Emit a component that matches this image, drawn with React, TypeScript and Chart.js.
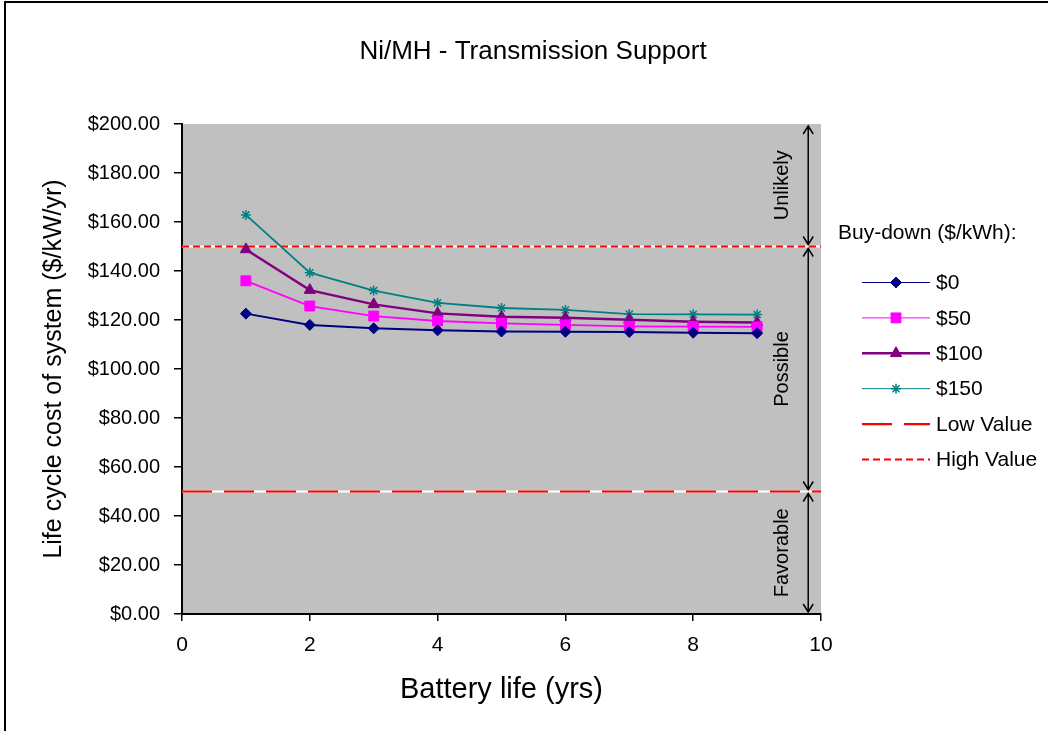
import React, { useEffect, useRef } from 'react';
import { Chart, registerables, PointElement } from 'chart.js';

Chart.register(...registerables);

// ---------- data ----------
const years = [1, 2, 3, 4, 5, 6, 7, 8, 9];
const cost0 = [122.6, 118.0, 116.6, 115.8, 115.3, 115.2, 115.1, 114.8, 114.6];
const cost50 = [136.0, 125.7, 121.6, 119.6, 118.6, 118.0, 117.4, 117.3, 117.2];
const cost100 = [148.8, 132.2, 126.4, 122.7, 121.3, 120.9, 120.1, 119.3, 119.0];
const cost150 = [162.9, 139.3, 132.0, 127.0, 124.9, 124.1, 122.4, 122.3, 122.2];
const seriesLabels = ['$0', '$50', '$100', '$150'];
const lowValue = 50;
const highValue = 150;
const xMin = 0;
const xMax = 10;
const xStep = 2;
const yMin = 0;
const yMax = 200;
const yStep = 20;
const zoneBounds = [0, 50, 150, 200];
const zoneLabels = ['Favorable', 'Possible', 'Unlikely'];
const arrowX = 9.8;
const zoneLabelX = 9.4;
const chartTitle = 'Ni/MH - Transmission Support';
const xTitle = 'Battery life (yrs)';
const yTitle = 'Life cycle cost of system ($/kW/yr)';
const legendTitle = 'Buy-down ($/kWh):';

const FONT = "'Liberation Sans', Arial, sans-serif";

const pts = (ys: number[]) => years.map((x, i) => ({ x, y: ys[i] }));
const flat = (v: number) => [{ x: xMin, y: v }, { x: xMax, y: v }];

const plotBg = {
  id: 'plotBg',
  beforeDraw(chart: any) {
    const { ctx, chartArea: a } = chart;
    ctx.save();
    ctx.fillStyle = '#C0C0C0';
    ctx.fillRect(a.left, a.top, a.right - a.left, a.bottom - a.top);
    ctx.restore();
  },
};

const zones = {
  id: 'zones',
  afterDatasetsDraw(chart: any) {
    const { ctx, scales } = chart;
    const x = scales.x;
    const y = scales.y;
    const ax = x.getPixelForValue(arrowX);
    const lx = x.getPixelForValue(zoneLabelX);
    ctx.save();
    ctx.strokeStyle = '#000';
    ctx.fillStyle = '#000';
    ctx.lineWidth = 1.5;
    for (let i = 0; i < zoneLabels.length; i++) {
      const yTop = y.getPixelForValue(zoneBounds[i + 1]) + 2;
      const yBot = y.getPixelForValue(zoneBounds[i]) - 2;
      ctx.beginPath();
      ctx.moveTo(ax, yTop);
      ctx.lineTo(ax, yBot);
      ctx.moveTo(ax - 5, yTop + 8);
      ctx.lineTo(ax, yTop);
      ctx.lineTo(ax + 5, yTop + 8);
      ctx.moveTo(ax - 5, yBot - 8);
      ctx.lineTo(ax, yBot);
      ctx.lineTo(ax + 5, yBot - 8);
      ctx.stroke();
      ctx.save();
      ctx.translate(lx, (yTop + yBot) / 2);
      ctx.rotate(-Math.PI / 2);
      ctx.font = `20px ${FONT}`;
      ctx.textAlign = 'center';
      ctx.textBaseline = 'middle';
      ctx.fillText(zoneLabels[i], 0, 0);
      ctx.restore();
    }
    ctx.restore();
  },
};

const sideLegend = {
  id: 'sideLegend',
  afterDraw(chart: any, _args: any, opts: any) {
    const { ctx } = chart;
    ctx.save();
    ctx.fillStyle = '#000';
    ctx.font = `21px ${FONT}`;
    ctx.textBaseline = 'middle';
    ctx.textAlign = 'left';
    ctx.fillText(opts.title, opts.titleX, opts.titleY);
    const area = { left: 0, top: 0, right: chart.width, bottom: chart.height };
    let row = 0;
    chart.data.datasets.forEach((ds: any) => {
      if (ds.label.startsWith('_')) return;
      const yy = opts.firstY + row * opts.rowGap;
      ctx.save();
      ctx.strokeStyle = ds.borderColor;
      ctx.lineWidth = ds.legendLineWidth ?? ds.borderWidth;
      ctx.setLineDash(ds.borderDash || []);
      ctx.beginPath();
      ctx.moveTo(opts.lineX0, yy);
      ctx.lineTo(opts.lineX1, yy);
      ctx.stroke();
      ctx.restore();
      if (ds.pointRadius > 0) {
        const p = new PointElement({
          x: (opts.lineX0 + opts.lineX1) / 2,
          y: yy,
          options: {
            pointStyle: ds.pointStyle,
            radius: ds.pointRadius,
            rotation: 0,
            borderWidth: ds.pointBorderWidth,
            backgroundColor: ds.backgroundColor,
            borderColor: ds.borderColor,
          },
        } as any);
        p.draw(ctx, area as any);
      }
      ctx.fillStyle = '#000';
      ctx.font = `21px ${FONT}`;
      ctx.textBaseline = 'middle';
      ctx.fillText(ds.label, opts.textX, yy + 1);
      row++;
    });
    ctx.restore();
  },
};

export default function App() {
  const ref = useRef<HTMLCanvasElement>(null);
  useEffect(() => {
    if (!ref.current) return;
    Chart.defaults.font.family = FONT;
    Chart.defaults.color = '#000';
    const common = { tension: 0 };
    const chart = new Chart(ref.current, {
      type: 'line',
      data: {
        datasets: [
          { ...common, label: seriesLabels[0], data: pts(cost0), borderColor: '#000080', backgroundColor: '#000080', borderWidth: 2, legendLineWidth: 1, pointStyle: 'rectRot', pointRadius: 5.5, pointBorderWidth: 1, order: 1 } as any,
          { ...common, label: seriesLabels[1], data: pts(cost50), borderColor: '#FF00FF', backgroundColor: '#FF00FF', borderWidth: 1.8, legendLineWidth: 1, pointStyle: 'rect', pointRadius: 7, pointBorderWidth: 1, order: 2 },
          { ...common, label: seriesLabels[2], data: pts(cost100), borderColor: '#800080', backgroundColor: '#800080', borderWidth: 2.4, legendLineWidth: 2.4, pointStyle: 'triangle', pointRadius: 6.5, pointBorderWidth: 1, order: 3 },
          { ...common, label: seriesLabels[3], data: pts(cost150), borderColor: '#008080', backgroundColor: '#008080', borderWidth: 1.8, legendLineWidth: 1, pointStyle: 'star', pointRadius: 5, pointBorderWidth: 1.5, order: 4 },
          { label: 'Low Value', data: flat(lowValue), borderColor: '#FF0000', backgroundColor: '#FF0000', borderWidth: 2.2, borderDash: [30, 12], pointRadius: 0, order: 5 },
          { label: 'High Value', data: flat(highValue), borderColor: '#FF0000', backgroundColor: '#FF0000', borderWidth: 2.2, borderDash: [7, 4], pointRadius: 0, order: 5 },
          { label: '_lowBg', data: flat(lowValue), borderColor: '#FFFFFF', borderWidth: 2.2, pointRadius: 0, order: 6 },
          { label: '_highBg', data: flat(highValue), borderColor: '#FFFFFF', borderWidth: 2.2, pointRadius: 0, order: 6 },
        ] as any,
      },
      options: {
        responsive: false,
        animation: false,
        devicePixelRatio: 1,
        events: [],
        layout: { padding: { left: 18, right: 0, top: 0, bottom: 0 } },
        plugins: {
          legend: { display: false },
          tooltip: { enabled: false },
          title: {
            display: true,
            text: chartTitle,
            font: { size: 26, weight: 'normal', family: FONT },
            color: '#000',
            padding: { top: 36.5, bottom: 56.3 },
          },
          sideLegend: {
            title: legendTitle,
            titleX: 838,
            titleY: 233,
            firstY: 282.5,
            rowGap: 35.4,
            lineX0: 862,
            lineX1: 930,
            textX: 936,
          },
        } as any,
        scales: {
          x: {
            type: 'linear',
            min: xMin,
            max: xMax,
            ticks: { stepSize: xStep, font: { size: 21, family: FONT }, color: '#000', padding: 12 },
            grid: { drawOnChartArea: false, drawTicks: true, tickLength: 7, color: '#000', lineWidth: 1.5 },
            border: { display: true, color: '#000', width: 2 },
            title: { display: true, text: xTitle, font: { size: 29, family: FONT }, color: '#000', padding: { top: 0, bottom: 23.6 } },
            afterFit: (s: any) => { s.height = 117; },
          },
          y: {
            type: 'linear',
            min: yMin,
            max: yMax,
            ticks: { stepSize: yStep, font: { size: 20, family: FONT }, color: '#000', padding: 14, callback: (v: any) => '$' + Number(v).toFixed(2) },
            grid: { drawOnChartArea: false, drawTicks: true, tickLength: 8, color: '#000', lineWidth: 1.5 },
            border: { display: true, color: '#000', width: 2 },
            title: { display: true, text: yTitle, font: { size: 25, family: FONT }, color: '#000', padding: { top: 21, bottom: 0 } },
            afterFit: (s: any) => { s.width = 164; },
          },
          yR: {
            type: 'linear',
            position: 'right',
            min: 0,
            max: 1,
            ticks: { display: false },
            grid: { display: false },
            border: { display: false },
            afterFit: (s: any) => { s.width = 227; },
          },
        } as any,
      },
      plugins: [plotBg, zones, sideLegend],
    });
    return () => chart.destroy();
  }, []);

  return (
    <div style={{ position: 'fixed', left: 0, top: 0, width: 1048, height: 731, background: '#fff' }}>
      <canvas ref={ref} width={1048} height={731} style={{ display: 'block' }} />
      <div
        style={{
          position: 'absolute',
          left: 4,
          top: 1,
          right: 0,
          bottom: 0,
          borderTop: '2px solid #000',
          borderLeft: '2px solid #000',
          pointerEvents: 'none',
        }}
      />
    </div>
  );
}
